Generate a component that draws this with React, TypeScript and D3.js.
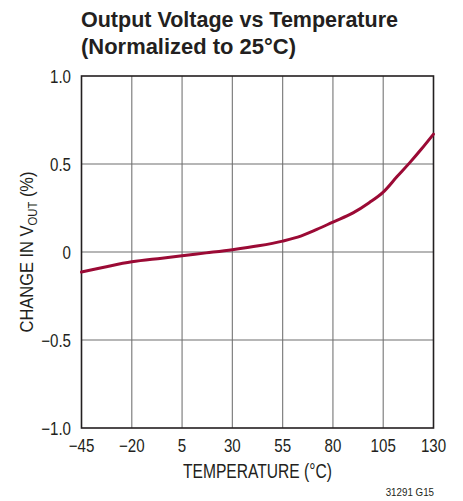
import React from "react";
import * as d3 from "d3";

const temps = [-45, -32, -20, -5, 5, 17, 30, 43, 55, 64, 72, 80, 90, 98, 105, 112, 118, 124, 130];
const changes = [-0.114, -0.082, -0.056, -0.035, -0.021, -0.005, 0.013, 0.035, 0.062, 0.09, 0.128, 0.17, 0.222, 0.28, 0.34, 0.43, 0.505, 0.585, 0.67];
const xTicks = [-45, -20, 5, 30, 55, 80, 105, 130];
const yTicks = [-1.0, -0.5, 0, 0.5, 1.0];
const yTickLabels = ["\u22121.0", "\u22120.5", "0", "0.5", "1.0"];
const xTickLabels = ["\u221245", "\u221220", "5", "30", "55", "80", "105", "130"];

const FONT = "'Liberation Sans', Arial, sans-serif";
const textColor = "#231f20";

function T({ x, y, size, sx = 0.84, anchor = "start", weight = "normal", children }: any) {
  return (
    <text transform={`translate(${x},${y}) scale(${sx},1)`} fontSize={size} textAnchor={anchor} fontWeight={weight} fill={textColor}>
      {children}
    </text>
  );
}

export default function App() {
  const W = 463, H = 501;
  const left = 81.5, right = 433.5, top = 76, bottom = 428;
  const x = d3.scaleLinear().domain([-45, 130]).range([left, right]);
  const y = d3.scaleLinear().domain([-1, 1]).range([bottom, top]);
  const pts: [number, number][] = temps.map((t, i) => [t, changes[i]]);
  const line = d3.line<[number, number]>().x(d => x(d[0])).y(d => y(d[1])).curve(d3.curveMonotoneX);
  return (
    <svg width={W} height={H} style={{ position: "absolute", left: 0, top: 0 }} fontFamily={FONT}>
      <text x={81} y={27} fontSize={22.5} fontWeight="bold" fill={textColor} textLength={317} lengthAdjust="spacingAndGlyphs">Output Voltage vs Temperature</text>
      <text x={81} y={54} fontSize={22.5} fontWeight="bold" fill={textColor} textLength={215} lengthAdjust="spacingAndGlyphs">(Normalized to 25°C)</text>
      {xTicks.slice(1, -1).map(t => (
        <line key={"gx" + t} x1={x(t)} x2={x(t)} y1={top} y2={bottom} stroke="#808080" strokeWidth={1.2} />
      ))}
      {yTicks.slice(1, -1).map(t => (
        <line key={"gy" + t} x1={left} x2={right} y1={y(t)} y2={y(t)} stroke="#6f6f6f" strokeWidth={1.2} />
      ))}
      <rect x={left} y={top} width={right - left} height={bottom - top} fill="none" stroke="#231f20" strokeWidth={1.6} />
      <path d={line(pts) || ""} fill="none" stroke="#9b0a35" strokeWidth={3} strokeLinecap="round" />
      {yTicks.map((t, i) => (
        <T key={"yl" + t} x={71} y={y(t) + 6.5} size={18} anchor="end">{yTickLabels[i]}</T>
      ))}
      {xTicks.map((t, i) => (
        <T key={"xl" + t} x={x(t)} y={452} size={18} anchor="middle">{xTickLabels[i]}</T>
      ))}
      <text x={257.5} y={478} fontSize={19.5} textAnchor="middle" fill={textColor} textLength={149} lengthAdjust="spacingAndGlyphs">TEMPERATURE (°C)</text>
      <g transform="translate(33, 252) rotate(-90)">
        <text x={0} y={0} fontSize={19} textAnchor="middle" fill={textColor} textLength={161} lengthAdjust="spacingAndGlyphs">
          CHANGE IN V<tspan fontSize={13} dy={4}>OUT</tspan><tspan dy={-4}> (%)</tspan>
        </text>
      </g>
      <T x={434} y={496} size={11.5} anchor="end" sx={0.85}>31291 G15</T>
    </svg>
  );
}
